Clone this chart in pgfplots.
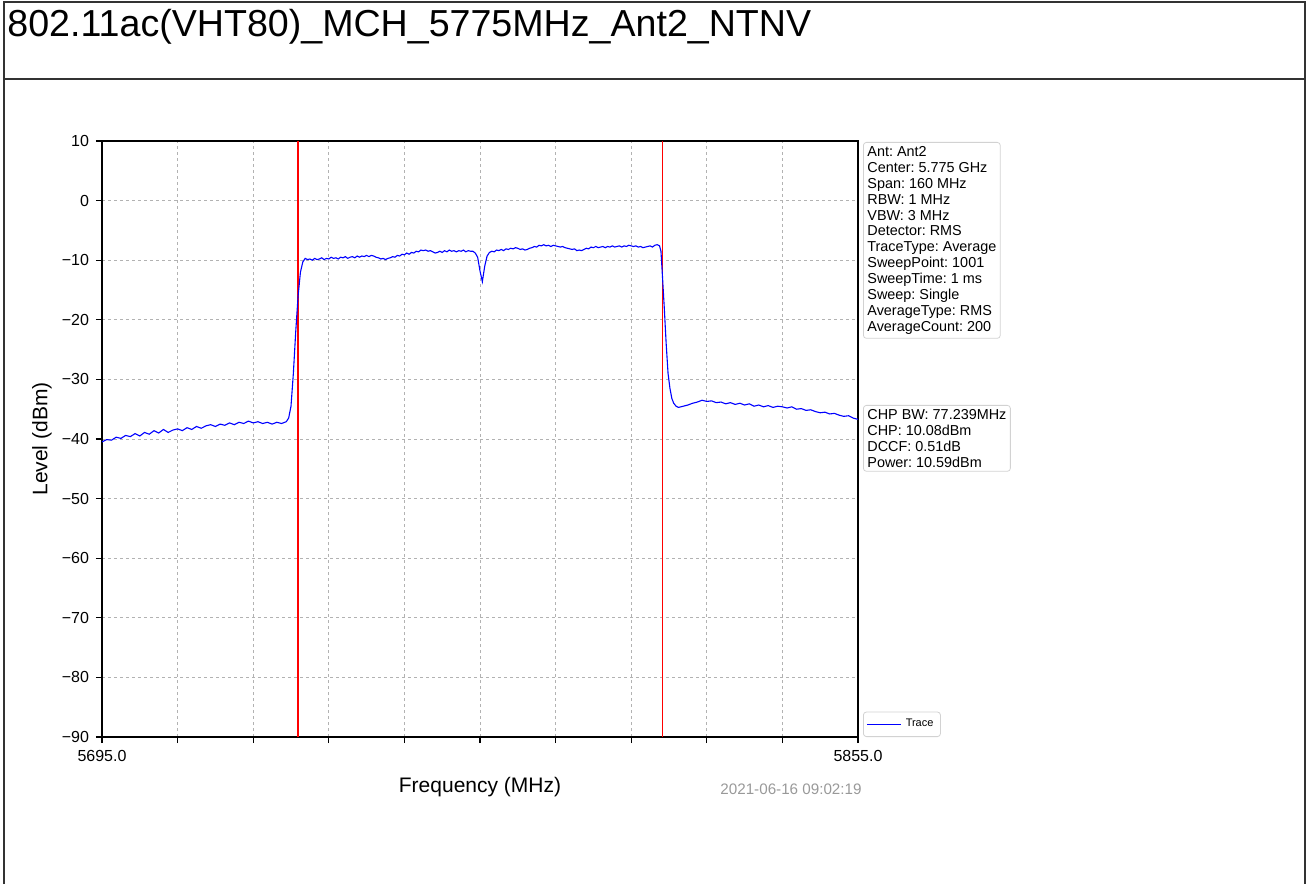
\documentclass[border=0pt]{standalone}
\usepackage{fontspec}
\setmainfont{Liberation Sans}
\usepackage{pgfplots}
\pgfplotsset{compat=1.18}
\frenchspacing

\begin{document}
\begin{tikzpicture}
% spectrum axis, 1px of the reference = 0.5pt
\begin{axis}[
  at={(0,0)}, anchor=south west,
  scale only axis,
  width=378pt, height=298pt,
  xmin=5695, xmax=5855,
  ymin=-90, ymax=10,
  xtick={5695,5711,...,5855},
  xticklabels={5695.0,,,,,,,,,,5855.0},
  ytick={-90,-80,...,10},
  yticklabels={−90,−80,−70,−60,−50,−40,−30,−20,−10,0,10},
  tick align=outside,
  tick pos=left,
  major tick length=3pt,
  tick style={black, line width=0.6pt},
  axis line style={black, line width=0.6pt},
  grid=major,
  grid style={gray!60, line width=0.35pt, dash pattern=on 1.5pt off 1.5pt},
  ticklabel style={font=\fontsize{8}{9}\selectfont},
  xlabel={Frequency (MHz)},
  ylabel={Level (dBm)},
  label style={font=\fontsize{10.5}{12}\selectfont},
  xlabel style={at={(axis description cs:0.5,-0.0839)}, anchor=center},
  ylabel style={at={(axis description cs:-0.0794,0.5)}, anchor=center},
  legend style={at={(1,0)}, anchor=south west, xshift=2.5pt,
    draw=gray!35, rounded corners=1.5pt,
    font=\fontsize{5.5}{6.5}\selectfont, inner sep=1.5pt},
  legend image post style={line width=0.6pt},
  legend cell align=left,
  /pgf/number format/assume math mode=true,
]
\addplot[red, line width=0.6pt, forget plot] coordinates {(5736.5,-90) (5736.5,10)};
\addplot[red, line width=0.6pt, forget plot] coordinates {(5813.6,-90) (5813.6,10)};
\addplot[blue, line width=0.55pt] coordinates {
(5695,-40.5) (5696,-40.1) (5697,-40.2) (5698,-39.7) (5699,-39.9) (5700,-39.4)
(5701,-39.6) (5702,-39.1) (5703,-39.5) (5704,-38.9) (5705,-39.2) (5706,-38.6)
(5707,-39.0) (5708,-38.4) (5709,-38.9) (5710,-38.5) (5711,-38.3) (5712,-38.6)
(5713,-38.1) (5714,-38.4) (5715,-37.9) (5716,-38.2) (5717,-37.8) (5718,-37.6)
(5719,-37.9) (5720,-37.5) (5721,-37.7) (5722,-37.3) (5723,-37.6) (5724,-37.2)
(5725,-37.4) (5726,-37.0) (5727,-37.3) (5728,-37.1) (5729,-37.4) (5730,-37.2)
(5731,-37.5) (5732,-37.2) (5733,-37.4) (5734,-37.1) (5734.5,-36.5) (5735,-34.5)
(5735.5,-29) (5736,-22) (5736.5,-16) (5737,-12) (5737.5,-10.3)
(5738.0,-9.7) (5738.5,-9.9) (5739.0,-9.8) (5739.5,-10.0) (5740.0,-9.7) (5740.5,-9.9)
(5741.0,-9.8) (5741.5,-9.6) (5742.0,-9.9) (5742.5,-9.7) (5743.0,-9.8) (5743.5,-9.5)
(5744.0,-9.7) (5744.5,-9.6) (5745.0,-9.8) (5745.5,-9.5) (5746.0,-9.6) (5746.5,-9.4)
(5747.0,-9.7) (5747.5,-9.5) (5748.0,-9.4) (5748.5,-9.6) (5749.0,-9.3) (5749.5,-9.5)
(5750.0,-9.3) (5750.5,-9.4) (5751.0,-9.2) (5751.5,-9.4) (5752.0,-9.2) (5752.5,-9.3)
(5753.0,-9.5) (5753.5,-9.6) (5754.0,-9.8) (5754.5,-9.7) (5755.0,-9.9) (5755.5,-9.7)
(5756.0,-9.6) (5756.5,-9.4) (5757.0,-9.5) (5757.5,-9.2) (5758.0,-9.3) (5758.5,-9.0)
(5759.0,-9.1) (5759.5,-8.8) (5760.0,-9.0) (5760.5,-8.7) (5761.0,-8.8) (5761.5,-8.5)
(5762.0,-8.6) (5762.5,-8.3) (5763.0,-8.4) (5763.5,-8.3) (5764.0,-8.5) (5764.5,-8.4)
(5765.0,-8.6) (5765.5,-8.8) (5766.0,-8.7) (5766.5,-8.5) (5767.0,-8.7) (5767.5,-8.4)
(5768.0,-8.6) (5768.5,-8.3) (5769.0,-8.5) (5769.5,-8.4) (5770.0,-8.6) (5770.5,-8.4)
(5771.0,-8.5) (5771.5,-8.3) (5772.0,-8.6) (5772.5,-8.4) (5773.0,-8.5) (5773.5,-8.5)
(5774.0,-8.8) (5774.5,-9.5) (5775.0,-11.8) (5775.5,-13.6) (5776.0,-11.0) (5776.5,-9.3)
(5777.0,-8.7) (5777.5,-8.5) (5778.0,-8.6) (5778.5,-8.3) (5779.0,-8.4) (5779.5,-8.2)
(5780.0,-8.4) (5780.5,-8.1) (5781.0,-8.2) (5781.5,-8.0) (5782.0,-8.1) (5782.5,-7.9)
(5783.0,-8.0) (5783.5,-8.2) (5784.0,-8.1) (5784.5,-8.3) (5785.0,-8.2) (5785.5,-8.0)
(5786.0,-7.9) (5786.5,-7.7) (5787.0,-7.8) (5787.5,-7.5) (5788.0,-7.6) (5788.5,-7.4)
(5789.0,-7.6) (5789.5,-7.5) (5790.0,-7.7) (5790.5,-7.5) (5791.0,-7.6) (5791.5,-7.7)
(5792.0,-7.8) (5792.5,-7.7) (5793.0,-7.9) (5793.5,-8.0) (5794.0,-8.1) (5794.5,-8.2)
(5795.0,-8.1) (5795.5,-8.4) (5796.0,-8.3) (5796.5,-8.4) (5797.0,-8.2) (5797.5,-8.0)
(5798.0,-8.1) (5798.5,-7.8) (5799.0,-7.9) (5799.5,-7.7) (5800.0,-7.9) (5800.5,-7.8)
(5801.0,-7.7) (5801.5,-7.9) (5802.0,-7.7) (5802.5,-7.8) (5803.0,-7.6) (5803.5,-7.8)
(5804.0,-7.7) (5804.5,-7.6) (5805.0,-7.8) (5805.5,-7.6) (5806.0,-7.7) (5806.5,-7.5)
(5807.0,-7.6) (5807.5,-7.7) (5808.0,-7.6) (5808.5,-7.8) (5809.0,-7.7) (5809.5,-7.9)
(5810.0,-7.8) (5810.5,-7.7) (5811.0,-7.6) (5811.5,-7.8) (5812.0,-7.5) (5812.5,-7.4)
(5813.0,-7.6) (5813.3,-8.5) (5813.6,-12.5) (5814.0,-18) (5814.4,-24) (5814.8,-29)
(5815.2,-31.5) (5815.6,-33.2) (5816.0,-34.0) (5816.5,-34.5) (5817.0,-34.7) (5817.5,-34.6)
(5818,-34.5) (5819,-34.3) (5820,-34.0) (5821,-33.8) (5822,-33.5) (5823,-33.7)
(5824,-33.6) (5825,-33.9) (5826,-33.8) (5827,-34.1) (5828,-33.9) (5829,-34.2)
(5830,-34.0) (5831,-34.3) (5832,-34.1) (5833,-34.5) (5834,-34.3) (5835,-34.6)
(5836,-34.4) (5837,-34.7) (5838,-34.5) (5839,-34.6) (5840,-34.8) (5841,-34.6)
(5842,-35.0) (5843,-34.9) (5844,-35.2) (5845,-35.1) (5846,-35.4) (5847,-35.6)
(5848,-35.5) (5849,-35.8) (5850,-35.7) (5851,-36.0) (5852,-36.2) (5853,-36.1)
(5854,-36.5) (5855,-36.7)
};
\addlegendentry{Trace}
\end{axis}

% page furniture in reference pixels, origin at the axis corner (102,737)
\begin{scope}[x=0.5pt, y=-0.5pt, shift={(-51pt,368.5pt)}]
  \path[use as bounding box] (0,0) rectangle (1306,884);
  \draw[line width=0.8pt, black!80] (4,884) -- (4,2) -- (1305,2) -- (1305,884);
  \draw[line width=0.8pt, black!80] (4,79) -- (1305,79);
  \node[anchor=base west, inner sep=0pt, font=\fontsize{18.8}{22}\selectfont]
    at (7,37) {802.11ac(VHT80)\_MCH\_5775MHz\_Ant2\_NTNV};
  \node[anchor=north west, draw=gray!35, rounded corners=1.5pt, align=left,
    inner sep=2pt, font=\fontsize{7.2}{7.95}\selectfont] at (863,142)
    {Ant: Ant2\\Center: 5.775 GHz\\Span: 160 MHz\\RBW: 1 MHz\\VBW: 3 MHz\\
     Detector: RMS\\TraceType: Average\\SweepPoint: 1001\\SweepTime: 1 ms\\
     Sweep: Single\\AverageType: RMS\\AverageCount: 200};
  \node[anchor=north west, draw=gray!35, rounded corners=1.5pt, align=left,
    inner sep=2pt, font=\fontsize{7.2}{7.95}\selectfont] at (863,405)
    {CHP BW: 77.239MHz\\CHP: 10.08dBm\\DCCF: 0.51dB\\Power: 10.59dBm};
  \node[anchor=center, text=gray!80, font=\fontsize{7.6}{9}\selectfont]
    at (791,789) {2021-06-16 09:02:19};
\end{scope}
\end{tikzpicture}
\end{document}
